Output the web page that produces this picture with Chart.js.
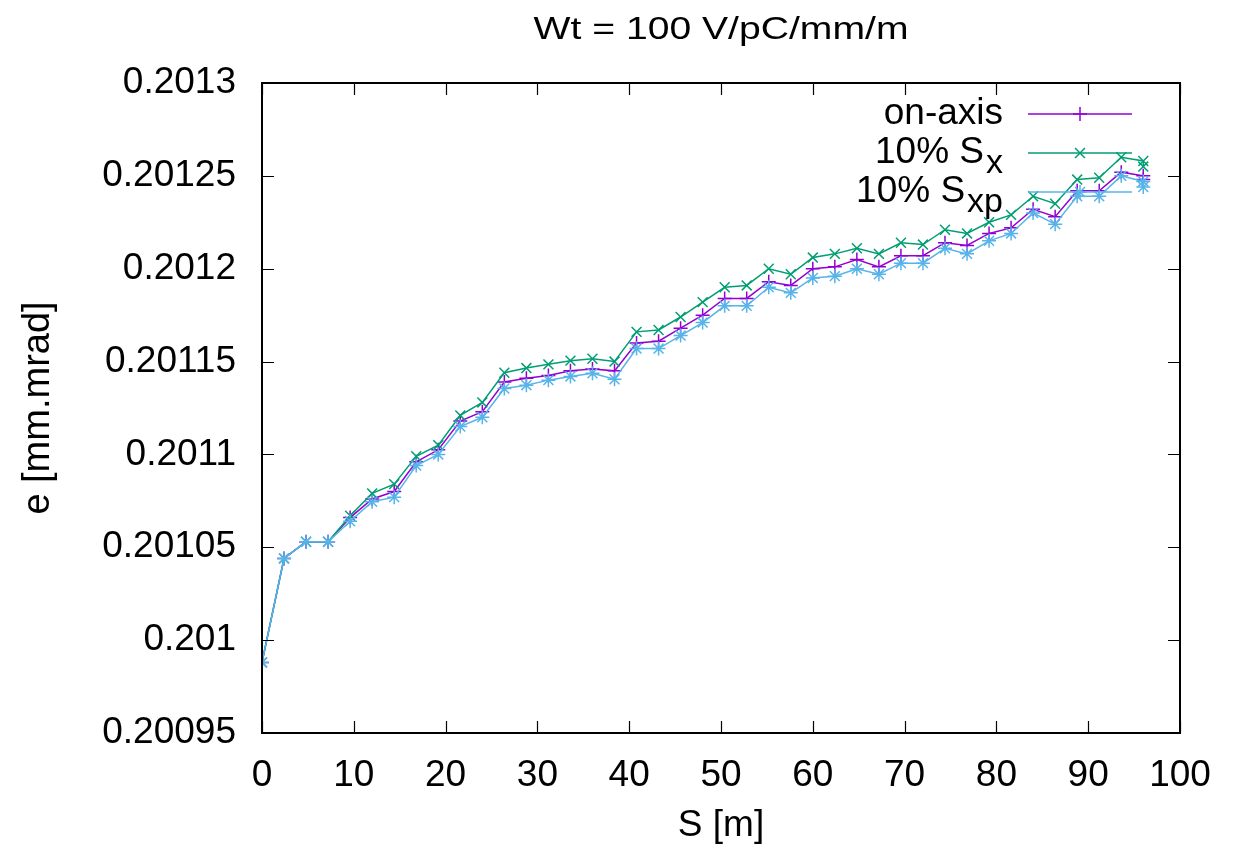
<!DOCTYPE html>
<html lang="en">
<head>
<meta charset="UTF-8">
<title>Wt = 100 V/pC/mm/m</title>
<script src="https://cdn.jsdelivr.net/npm/chart.js"></script>
<style>
  body { margin: 0; background: #fff; }
  #wrap { width: 1237px; height: 852px; }
</style>
</head>
<body>
<div id="wrap"><canvas id="grafico" width="1237" height="852"></canvas></div>

<script>
// posicao S [m]
const posS = [0, 2.4, 4.8, 7.2, 9.6, 12, 14.4, 16.8, 19.2, 21.6, 24, 26.4, 28.8, 31.2, 33.6, 36, 38.4,
  40.8, 43.2, 45.6, 48, 50.4, 52.8, 55.2, 57.6, 60, 62.4, 64.8, 67.2, 69.6, 72, 74.4, 76.8, 79.2,
  81.6, 84, 86.4, 88.8, 91.2, 93.6, 96, 96];

// emitancia [mm.mrad]
const onAxis = [0.200988, 0.201044, 0.201053, 0.201053, 0.201066, 0.201076, 0.201080, 0.201096,
  0.2011025, 0.201118, 0.201123, 0.201139, 0.201141, 0.2011425, 0.201145, 0.201146, 0.201145,
  0.201160, 0.201161, 0.201168, 0.201175, 0.201184, 0.201184, 0.201193, 0.201191, 0.201200,
  0.201201, 0.201205, 0.201201, 0.201207, 0.201207, 0.201214, 0.2012125, 0.201219, 0.201222,
  0.201232, 0.201228, 0.201242, 0.201242, 0.201252, 0.201250, 0.201248];

const sigX = [0.200988, 0.201044, 0.201053, 0.201053, 0.201067, 0.201079, 0.201084, 0.201099,
  0.201105, 0.201121, 0.201128, 0.201144, 0.2011465, 0.2011485, 0.2011505, 0.2011515, 0.201150,
  0.201166, 0.201167, 0.201174, 0.201182, 0.201190, 0.201191, 0.201200, 0.201197, 0.201206,
  0.201208, 0.201211, 0.201208, 0.201214, 0.201213, 0.201221, 0.201219, 0.201225, 0.201229,
  0.201239, 0.201235, 0.201248, 0.201249, 0.201260, 0.201258, 0.201255];

const sigXp = [0.200988, 0.201044, 0.201053, 0.201053, 0.201064, 0.2010745, 0.201077, 0.201094,
  0.201100, 0.201115, 0.201120, 0.2011355, 0.2011373, 0.201140, 0.201142, 0.2011437, 0.2011405,
  0.201157, 0.201157, 0.201164, 0.201171, 0.201180, 0.201180, 0.201190, 0.201187, 0.201195,
  0.201196, 0.201200, 0.201197, 0.201203, 0.201203, 0.201211, 0.201208, 0.201215, 0.201219,
  0.201230, 0.201224, 0.201239, 0.201239, 0.201250, 0.201247, 0.201244];

const yMin = 0.20095, yMax = 0.2013, yPasso = 0.00005;
const xMin = 0, xMax = 100, xPasso = 10;

const titulo = 'Wt = 100 V/pC/mm/m';
const FONTE = 'Liberation Sans, Arial, sans-serif';

function pontos(valores) {
  return posS.map((s, i) => ({ x: s, y: valores[i] }));
}

// series (ordem: a ultima fica por cima, como no gnuplot)
const series = [
  { label: 'on-axis', cor: '#9400d3', estilo: 'cross', dados: onAxis, ordem: 3, nome: ['on-axis', ''] },
  { label: '10% Sx', cor: '#009e73', estilo: 'crossRot', dados: sigX, ordem: 2, nome: ['10% S', 'x'] },
  { label: '10% Sxp', cor: '#56b4e9', estilo: 'star', dados: sigXp, ordem: 1, nome: ['10% S', 'xp'] }
];

// titulo, moldura, ticks para dentro e legenda
const molduraPlugin = {
  id: 'moldura',
  afterDraw(chart) {
    const ctx = chart.ctx;
    const a = chart.chartArea;
    const sx = chart.scales.x, sy = chart.scales.y;
    ctx.save();

    // titulo centrado sobre a area do grafico (fonte um pouco esticada como no original)
    ctx.font = '32px ' + FONTE;
    ctx.fillStyle = '#000';
    ctx.textAlign = 'center';
    ctx.textBaseline = 'alphabetic';
    const esticar = 375 / ctx.measureText(titulo).width;
    ctx.save();
    ctx.translate((a.left + a.right) / 2, 39);
    ctx.scale(esticar, 1);
    ctx.fillText(titulo, 0, 0);
    ctx.restore();

    ctx.strokeStyle = '#000';
    ctx.lineWidth = 1.2;
    sy.ticks.forEach(t => {
      const py = Math.round(sy.getPixelForValue(t.value)) + 0.5;
      ctx.beginPath();
      ctx.moveTo(a.left, py); ctx.lineTo(a.left + 12, py);
      ctx.moveTo(a.right, py); ctx.lineTo(a.right - 12, py);
      ctx.stroke();
    });
    sx.ticks.forEach(t => {
      const px = Math.round(sx.getPixelForValue(t.value)) + 0.5;
      ctx.beginPath();
      ctx.moveTo(px, a.bottom); ctx.lineTo(px, a.bottom - 12);
      ctx.moveTo(px, a.top); ctx.lineTo(px, a.top + 12);
      ctx.stroke();
    });
    ctx.lineWidth = 2;
    ctx.strokeRect(a.left, a.top, a.right - a.left, a.bottom - a.top);

    // legenda
    const xTexto = 1003, x0 = 1028, x1 = 1132;
    ctx.textAlign = 'left';
    ctx.textBaseline = 'middle';
    series.forEach((s, i) => {
      const py = 114 + i * 39;
      ctx.fillStyle = '#000';
      ctx.font = '37px ' + FONTE;
      const w0 = ctx.measureText(s.nome[0]).width;
      ctx.font = '34px ' + FONTE;
      const w1 = s.nome[1] ? ctx.measureText(s.nome[1]).width + 2 : 0;
      const inicio = xTexto - w0 - w1;
      ctx.font = '37px ' + FONTE;
      ctx.fillText(s.nome[0], inicio, py);
      if (s.nome[1]) {
        ctx.font = '34px ' + FONTE;
        ctx.fillText(s.nome[1], inicio + w0 + 2, py + 11);
      }
      ctx.strokeStyle = s.cor;
      ctx.lineWidth = 1.5;
      ctx.beginPath();
      ctx.moveTo(x0, py); ctx.lineTo(x1, py);
      ctx.stroke();
      Chart.helpers.drawPoint(ctx, { pointStyle: s.estilo, radius: 7, borderWidth: 1.5 }, (x0 + x1) / 2, py);
    });
    ctx.restore();
  }
};

const config = {
  type: 'line',
  data: {
    datasets: series.map(s => ({
      label: s.label,
      data: pontos(s.dados),
      borderColor: s.cor,
      backgroundColor: s.cor,
      borderWidth: 1.5,
      pointStyle: s.estilo,
      pointRadius: 7,
      pointBorderWidth: 1.5,
      tension: 0,
      fill: false,
      order: s.ordem
    }))
  },
  options: {
    responsive: false,
    animation: false,
    devicePixelRatio: 1,
    layout: { padding: { left: 0, right: 57, top: 83, bottom: 0 } },
    plugins: {
      legend: { display: false },
      tooltip: { enabled: false },
      title: { display: false }
    },
    scales: {
      x: {
        type: 'linear',
        min: xMin,
        max: xMax,
        grid: { display: false, drawTicks: false },
        border: { display: false },
        ticks: {
          stepSize: xPasso,
          color: '#000',
          padding: 21,
          maxRotation: 0,
          font: { family: FONTE, size: 37 }
        },
        title: {
          display: true,
          text: 'S [m]',
          color: '#000',
          font: { family: FONTE, size: 37 },
          padding: { top: 0, bottom: 4 }
        },
        afterFit(scale) { scale.height = 119; }
      },
      y: {
        type: 'linear',
        min: yMin,
        max: yMax,
        grid: { display: false, drawTicks: false },
        border: { display: false },
        ticks: {
          stepSize: yPasso,
          color: '#000',
          padding: 26,
          font: { family: FONTE, size: 37 },
          callback: v => parseFloat(v.toFixed(5)).toString()
        },
        title: {
          display: true,
          text: 'e [mm.mrad]',
          color: '#000',
          font: { family: FONTE, size: 38 },
          padding: { top: 16, bottom: 0 }
        },
        afterFit(scale) { scale.width = 262; }
      }
    }
  },
  plugins: [molduraPlugin]
};

const grafico = new Chart(document.getElementById('grafico').getContext('2d'), config);
</script>
</body>
</html>
